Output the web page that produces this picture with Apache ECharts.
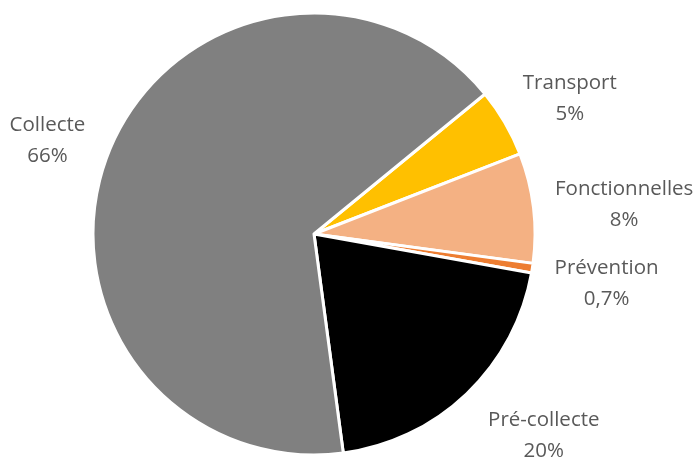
<!DOCTYPE html>
<html>
<head>
<meta charset="utf-8">
<script src="https://cdn.jsdelivr.net/npm/echarts@6/dist/echarts.min.js"></script>
<style>
  html, body { margin: 0; padding: 0; background: #fff; }
  #chart { width: 700px; height: 459px; }
</style>
</head>
<body>
<div id="chart"></div>
<script>
const categories = ['Transport', 'Fonctionnelles', 'Prévention', 'Pré-collecte', 'Collecte']
const values = [5, 8, 0.7, 20, 66]
const colors = ['#FFC000', '#F4B183', '#ED7D31', '#000000', '#808080']

const W = 700, H = 459
const cx = 314, cy = 234, R = 221
const startAngle = 39.3   // degrees, echarts convention (ccw from 3 o'clock)
const gap = 19

// mid angle of each slice, measured clockwise from 12 o'clock
const total = values.reduce((a, b) => a + b, 0)
const midAngles = []
let acc = 90 - startAngle
values.forEach(v => {
  const span = v / total * 360
  midAngles.push(acc + span / 2)
  acc += span
})

// put each label box just outside the circle, centred on the slice direction (Excel style)
function placeLabel(params) {
  const rect = params.labelRect
  const w = rect.width / 2, h = rect.height / 2
  const a = midAngles[params.dataIndex] * Math.PI / 180
  const ux = Math.sin(a), uy = -Math.cos(a)
  const d = R + gap + w * Math.abs(ux) + h * Math.abs(uy)
  let x = cx + d * ux
  let y = cy + d * uy + 6 - uy * 16
  // keep near the bottom edge, then slide sideways to clear the circle
  if (y + h > H + 8) {
    y = H + 8 - h
    const top = y - h - cy
    const need = R + gap + 4
    const dx = Math.sqrt(Math.max(0, need * need - top * top))
    x = ux > 0 ? cx + dx + w : cx - dx - w
  }
  return { x: x, y: y, align: 'center', verticalAlign: 'middle' }
}

const chart = echarts.init(document.getElementById('chart'))
const option = {
  animation: false,
  series: [
    {
      type: 'pie',
      center: [cx, cy],
      radius: R,
      startAngle: startAngle,
      clockwise: true,
      data: categories.map((name, i) => ({
        name: name,
        value: values[i],
        itemStyle: { color: colors[i] }
      })),
      itemStyle: { borderColor: '#fff', borderWidth: 3 },
      label: {
        show: true,
        position: 'outside',
        formatter: p => p.name + '\n' + String(p.value).replace('.', ',') + '%',
        color: '#595959',
        fontFamily: 'Open Sans',
        fontSize: 20.5,
        lineHeight: 31,
        align: 'center',
        overflow: 'none'
      },
      labelLine: { show: false },
      labelLayout: placeLabel
    }
  ]
}
chart.setOption(option)
</script>
</body>
</html>
